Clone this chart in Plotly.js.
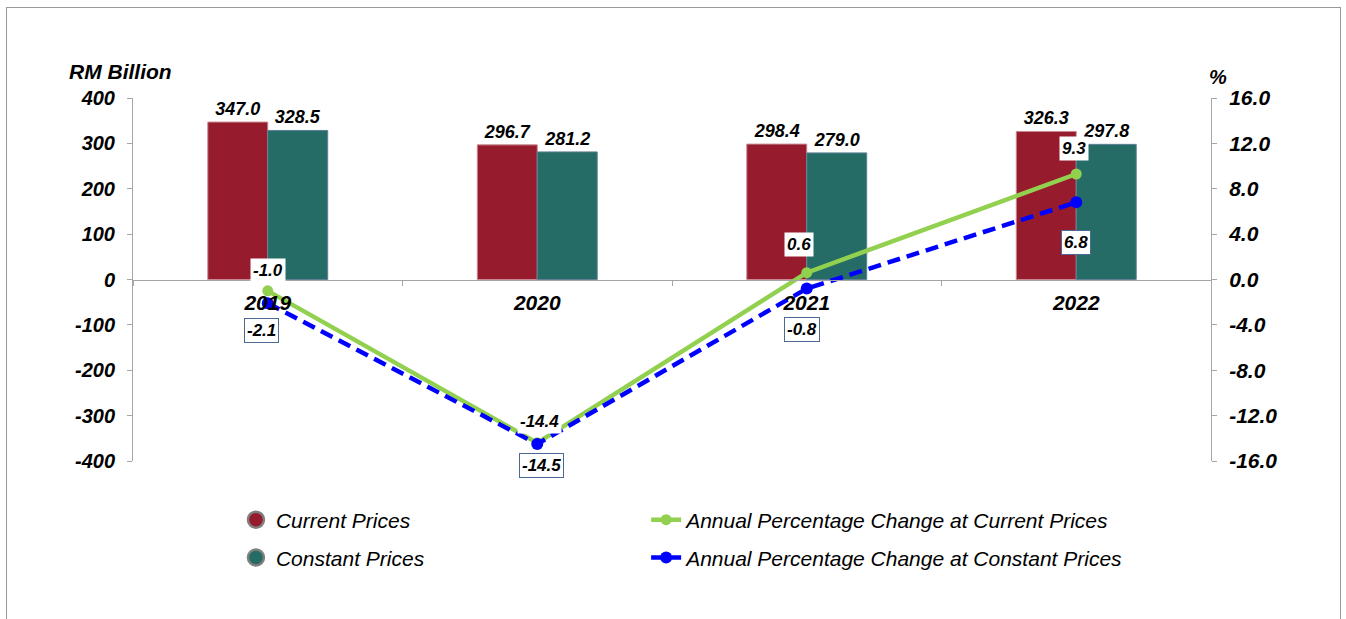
<!DOCTYPE html>
<html>
<head>
<meta charset="utf-8">
<script src="https://cdn.plot.ly/plotly-3.0.1.min.js"></script>
<style>
  html, body { margin: 0; padding: 0; background: #fff; }
  #wrap { position: relative; width: 1346px; height: 619px; overflow: hidden; }
  #chart { position: absolute; left: 0; top: 0; width: 1346px; height: 619px; }
  #frame { position: absolute; left: 6px; top: 7px; width: 1333px; height: 700px; border: 1px solid #9a9a9a; pointer-events: none; }
</style>
</head>
<body>
<div id="wrap">
  <div id="chart"></div>
  <div id="frame"></div>
</div>
<script>
// ---- data ----
const years = ['2019', '2020', '2021', '2022'];
const currentPrices = [347.0, 296.7, 298.4, 326.3];
const constantPrices = [328.5, 281.2, 279.0, 297.8];
const pctCurrent = [-1.0, -14.4, 0.6, 9.3];
const pctConstant = [-2.1, -14.5, -0.8, 6.8];
const leftTicks = [-400, -300, -200, -100, 0, 100, 200, 300, 400];
const rightTicks = [-16, -12, -8, -4, 0, 4, 8, 12, 16];

// ---- label offsets (pixels) ----
const greenShiftY = [20, 21, 28, 26];
const greenShiftX = [0, 2, -8, -2];
const blueShiftY = [-27, -22, -41, -40];
const blueShiftX = [-6, 4, -5, 0];

const FONT = 'Liberation Sans, Arial, sans-serif';
const biFont = (size) => ({family: FONT, size: size, color: '#000', weight: 'bold', style: 'italic'});

const RED = '#961B2C';
const TEAL = '#246C65';
const GREEN = '#92D050';
const BLUE = '#0000FF';

const traces = [
  {
    type: 'bar', x: years, y: currentPrices, name: 'Current Prices',
    marker: {color: RED, line: {color: '#c98a94', width: 1}},
    text: currentPrices.map(v => v.toFixed(1)), textposition: 'outside',
    textfont: biFont(18), cliponaxis: false, showlegend: false, hoverinfo: 'y'
  },
  {
    type: 'bar', x: years, y: constantPrices, name: 'Constant Prices',
    marker: {color: TEAL, line: {color: '#5f7f96', width: 1}},
    text: constantPrices.map(v => v.toFixed(1)), textposition: 'outside',
    textfont: biFont(18), cliponaxis: false, showlegend: false, hoverinfo: 'y'
  },
  {
    type: 'scatter', mode: 'lines+markers', x: years, y: pctCurrent, yaxis: 'y2',
    name: 'Annual Percentage Change at Current Prices',
    line: {color: GREEN, width: 4.5}, marker: {color: GREEN, size: 11},
    cliponaxis: false, legend: 'legend3'
  },
  {
    type: 'scatter', mode: 'lines+markers', x: years, y: pctConstant, yaxis: 'y2',
    name: 'Annual Percentage Change at Constant Prices',
    line: {color: BLUE, width: 4.5, dash: '13px,7px'}, marker: {color: BLUE, size: 12},
    cliponaxis: false, legend: 'legend4'
  },
  // legend-only entries for bar series (circle swatches), on hidden axes
  {
    type: 'scatter', mode: 'markers', x: [0], y: [null], xaxis: 'x2', yaxis: 'y3', name: 'Current Prices',
    marker: {color: RED, size: 16, line: {color: '#7f7f7f', width: 2.5}},
    legend: 'legend', hoverinfo: 'skip'
  },
  {
    type: 'scatter', mode: 'markers', x: [0], y: [null], xaxis: 'x2', yaxis: 'y3', name: 'Constant Prices',
    marker: {color: TEAL, size: 16, line: {color: '#7f7f7f', width: 2.5}},
    legend: 'legend2', hoverinfo: 'skip'
  }
];

const annotations = [];
years.forEach((yr, i) => {
  annotations.push({
    x: i, y: pctCurrent[i], xref: 'x', yref: 'y2',
    text: pctCurrent[i].toFixed(1), showarrow: false,
    font: biFont(17), bgcolor: '#fff', borderpad: 2,
    yshift: greenShiftY[i], xshift: greenShiftX[i]
  });
  annotations.push({
    x: i, y: pctConstant[i], xref: 'x', yref: 'y2',
    text: pctConstant[i].toFixed(1), showarrow: false,
    font: biFont(17), bgcolor: '#fff', bordercolor: '#4a6a94', borderwidth: 1, borderpad: 2,
    yshift: blueShiftY[i], xshift: blueShiftX[i]
  });
});
annotations.push({
  xref: 'paper', yref: 'paper', x: -0.012, y: 1.074, xanchor: 'center', yanchor: 'middle',
  text: 'RM Billion', showarrow: false, font: biFont(21)
});
annotations.push({
  xref: 'paper', yref: 'paper', x: 1.0065, y: 1.058, xanchor: 'center', yanchor: 'middle',
  text: '%', showarrow: false, font: biFont(20)
});

const legendFont = {family: FONT, size: 21, color: '#000', style: 'italic'};
const mkLegend = (x, y) => ({
  x: x, y: y, xanchor: 'left', yanchor: 'middle', xref: 'paper', yref: 'paper',
  bgcolor: 'rgba(0,0,0,0)', borderwidth: 0, font: legendFont, orientation: 'v'
});

const layout = {
  width: 1346, height: 619,
  margin: {l: 133, r: 135, t: 98, b: 158},
  paper_bgcolor: '#fff', plot_bgcolor: '#fff',
  barmode: 'group', bargap: 0.555, bargroupgap: 0,
  font: {family: FONT, color: '#000'},
  xaxis: {
    type: 'category', categoryorder: 'array', categoryarray: years,
    range: [-0.5, 3.5], anchor: 'free', position: 0.5,
    showline: true, linecolor: '#a6a6a6', linewidth: 1,
    ticks: 'outside', tickson: 'boundaries', ticklen: 5, tickcolor: '#a6a6a6',
    tickfont: biFont(21), ticklabelstandoff: 4, tickangle: 0,
    showgrid: false, zeroline: false, fixedrange: true
  },
  yaxis: {
    range: [-400, 400], tickvals: leftTicks, ticktext: leftTicks.map(String),
    showline: true, linecolor: '#a6a6a6', linewidth: 1,
    ticks: 'outside', ticklen: 5, tickcolor: '#a6a6a6',
    tickfont: biFont(20), ticklabelstandoff: 8,
    showgrid: false, zeroline: false, fixedrange: true
  },
  yaxis2: {
    overlaying: 'y', side: 'right', range: [-16, 16],
    tickvals: rightTicks, ticktext: rightTicks.map(v => v.toFixed(1)),
    showline: true, linecolor: '#a6a6a6', linewidth: 1,
    ticks: 'outside', ticklen: 5, tickcolor: '#a6a6a6',
    tickfont: biFont(21), ticklabelstandoff: 8,
    showgrid: false, zeroline: false, fixedrange: true
  },
  xaxis2: {visible: false, domain: [0, 0.01], anchor: 'y3'},
  yaxis3: {visible: false, domain: [0, 0.01], anchor: 'x2'},
  legend: mkLegend(0.0955, -0.1625),
  legend2: mkLegend(0.0955, -0.267),
  legend3: mkLegend(0.476, -0.1625),
  legend4: mkLegend(0.476, -0.267),
  annotations: annotations,
  showlegend: true
};

Plotly.newPlot('chart', traces, layout, {displayModeBar: false, staticPlot: true});
</script>
</body>
</html>
